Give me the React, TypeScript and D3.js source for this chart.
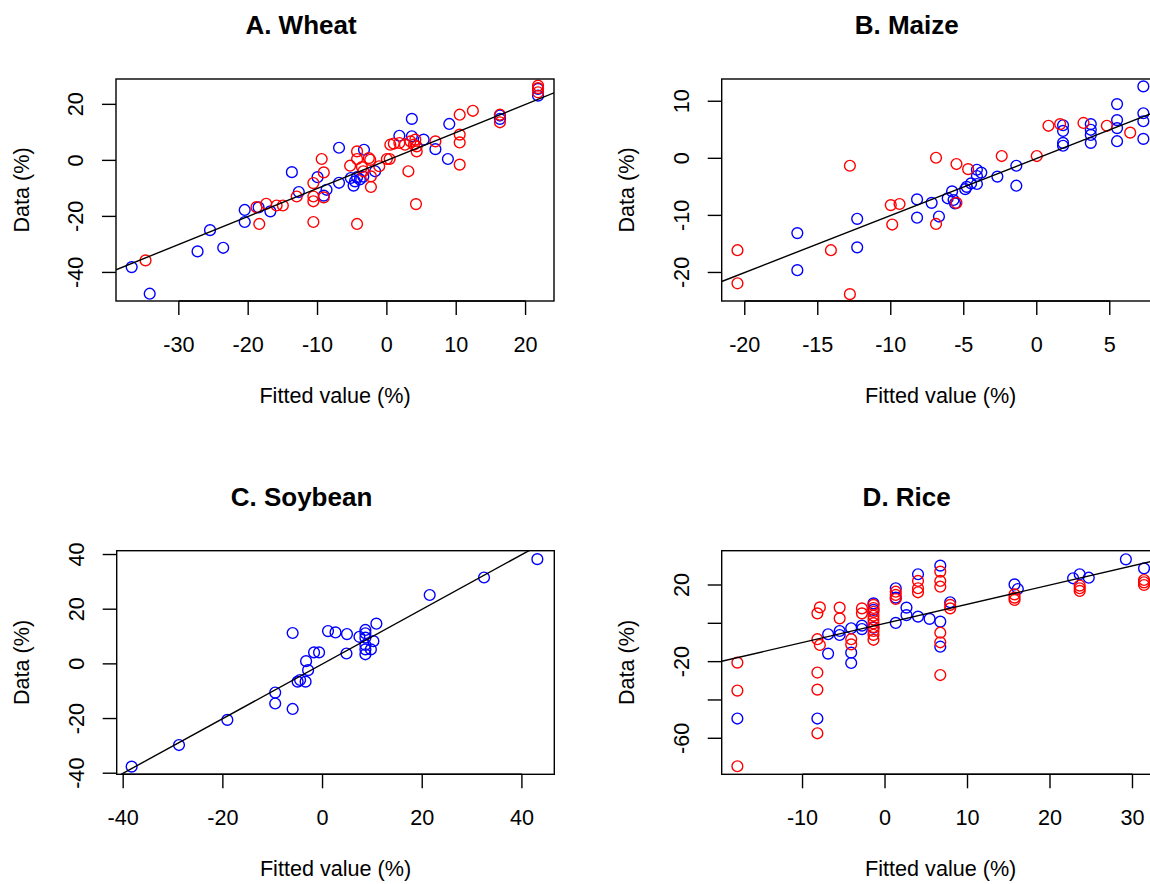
import React from "react";
import * as d3 from "d3";

type Pt = [number, number];

const FONT = "'Liberation Sans', Arial, Helvetica, sans-serif";
const BLUE = "#0000ff";
const RED = "#ff0000";

// [fitted value, observed data] pairs, in percent
const wheatBlue: Pt[] = [
  [-36.8, -38.1], [-34.2, -47.6], [-27.3, -32.5], [-25.5, -24.9], [-23.6, -31.2],
  [-20.5, -17.7], [-20.5, -22.0], [-18.5, -16.8], [-16.8, -18.2], [-13.7, -4.2],
  [-12.7, -11.3], [-10.0, -6.0], [-9.1, -12.6], [-8.7, -10.5], [-6.9, 4.5],
  [-6.9, -8.0], [-5.2, -6.3], [-4.8, -9.0], [-4.6, -7.5], [-4.3, -6.0],
  [-3.9, -6.8], [-3.4, -5.8], [-3.3, 3.8], [-1.7, -3.9], [1.8, 8.8],
  [3.6, 14.8], [3.6, 8.6], [5.3, 7.4], [7.0, 4.0], [8.8, 0.5],
  [9.0, 13.0], [16.3, 16.0], [16.3, 14.8], [21.8, 23.1], [21.8, 25.5],
];
const wheatRed: Pt[] = [
  [-34.8, -35.7], [-18.8, -16.7], [-18.4, -22.7], [-17.4, -15.5], [-15.9, -16.1],
  [-15.0, -16.1], [-13.0, -12.9], [-10.6, -8.1], [-10.6, -12.9], [-10.6, -14.6],
  [-10.6, -22.0], [-9.4, 0.5], [-9.1, -4.3], [-9.1, -13.2], [-5.3, -1.9],
  [-4.3, 3.2], [-4.3, 0.5], [-4.3, -22.7], [-3.6, -2.4], [-3.4, -3.9],
  [-2.6, 0.8], [-2.4, 0.2], [-2.3, -5.7], [-2.3, -9.5], [-1.1, -2.1],
  [0.0, 0.5], [0.4, 0.5], [0.5, 5.6], [1.0, 6.0], [1.8, 6.2],
  [2.6, 5.6], [3.1, -3.9], [3.4, 6.8], [3.9, 5.6], [4.1, 7.4],
  [4.3, 5.0], [4.3, 3.2], [4.2, -15.6], [7.0, 6.8], [10.5, 16.3],
  [10.5, 9.2], [10.5, 6.4], [10.5, -1.5], [12.4, 17.7], [16.3, 16.3],
  [16.3, 13.6], [21.8, 26.7], [21.8, 25.8], [21.8, 24.3],
];

const maizeBlue: Pt[] = [
  [-16.4, -13.1], [-16.4, -19.6], [-12.3, -10.6], [-12.3, -15.6], [-8.2, -7.2],
  [-8.2, -10.4], [-7.2, -7.8], [-6.7, -10.2], [-6.1, -7.0], [-5.8, -5.8],
  [-5.7, -7.3], [-5.6, -7.9], [-4.9, -5.4], [-4.8, -5.0], [-4.5, -4.4],
  [-4.1, -2.0], [-4.1, -3.1], [-4.1, -4.5], [-3.8, -2.5], [-2.7, -3.2],
  [-1.4, -1.3], [-1.4, -4.8], [1.8, 5.8], [1.8, 4.8], [1.8, 2.7],
  [1.8, 2.2], [3.7, 6.0], [3.7, 5.0], [3.7, 4.1], [3.7, 2.7],
  [5.5, 9.5], [5.5, 6.7], [5.5, 5.3], [5.5, 3.0], [7.3, 12.6],
  [7.3, 7.9], [7.3, 6.5], [7.3, 3.4],
];
const maizeRed: Pt[] = [
  [-20.5, -16.1], [-20.5, -21.9], [-14.1, -16.1], [-12.8, -1.3], [-12.8, -23.8],
  [-10.0, -8.2], [-9.4, -8.0], [-9.9, -11.6], [-6.9, 0.1], [-6.9, -11.5],
  [-5.5, -1.0], [-5.5, -7.8], [-4.7, -1.9], [-2.4, 0.4], [0.0, 0.4],
  [0.8, 5.7], [1.6, 6.0], [3.2, 6.2], [4.8, 5.7], [6.4, 4.5],
];

const soybeanBlue: Pt[] = [
  [-38.3, -37.6], [-28.8, -29.7], [-19.1, -20.5], [-9.5, -10.5], [-9.5, -14.5],
  [-6.0, 11.3], [-6.0, -16.5], [-5.0, -6.5], [-4.5, -5.9], [-3.4, -6.5],
  [-3.3, 1.0], [-2.9, -2.3], [-1.7, 4.2], [-0.7, 4.2], [1.1, 12.0],
  [2.6, 11.5], [4.8, 3.8], [4.9, 10.9], [7.4, 9.9], [8.6, 12.4],
  [8.6, 11.2], [8.6, 9.6], [8.6, 6.9], [8.6, 5.3], [8.6, 3.5],
  [9.7, 5.3], [10.2, 8.3], [10.8, 14.7], [21.5, 25.2], [32.4, 31.6],
  [43.1, 38.3],
];
const soybeanRed: Pt[] = [];

const riceBlue: Pt[] = [
  [-17.9, -49.7], [-8.2, -49.7], [-6.9, -5.7], [-6.9, -15.8], [-5.5, -4.0],
  [-5.5, -6.1], [-4.1, -2.6], [-4.1, -15.3], [-4.1, -20.7], [-2.8, -1.2],
  [-2.8, -3.0], [-1.4, 10.4], [-1.4, 7.0], [-1.4, -2.3], [1.3, 18.3],
  [1.3, 13.4], [1.3, 0.2], [2.6, 8.2], [2.6, 4.3], [4.0, 25.6],
  [4.0, 3.5], [5.4, 2.3], [6.7, 30.1], [6.7, 0.9], [6.7, -12.2],
  [7.9, 11.0], [15.7, 20.3], [16.1, 17.9], [22.8, 23.5], [23.6, 25.6],
  [24.7, 23.8], [29.2, 33.4], [31.4, 28.7],
];
const riceRed: Pt[] = [
  [-17.9, -20.5], [-17.9, -35.1], [-17.9, -74.6], [-8.2, 5.2], [-7.9, 8.3],
  [-8.2, -8.3], [-7.9, -11.3], [-8.2, -25.7], [-8.2, -34.6], [-8.2, -57.4],
  [-5.5, 8.2], [-5.5, 2.6], [-4.1, -8.3], [-4.1, -11.0], [-2.8, 7.8],
  [-2.8, 5.2], [-1.4, 9.6], [-1.4, 8.0], [-1.4, 6.0], [-1.4, 4.0],
  [-1.4, 2.0], [-1.4, 0.0], [-1.4, -2.0], [-1.4, -4.0], [-1.4, -6.0],
  [-1.4, -8.6], [1.3, 16.5], [1.3, 14.8], [1.3, 12.7], [4.0, 22.1],
  [4.0, 18.3], [4.0, 16.2], [6.7, 27.0], [6.7, 22.1], [6.7, 19.1],
  [6.7, -4.9], [6.7, -9.9], [6.7, -27.0], [7.9, 9.6], [7.9, 7.8],
  [15.7, 15.1], [15.7, 13.4], [15.7, 12.2], [23.6, 19.7], [23.6, 18.3],
  [23.6, 16.9], [31.4, 22.6], [31.4, 21.4], [31.4, 20.0],
];

// Axis tick values and which ones carry a label
const wheatXTicks = [-30, -20, -10, 0, 10, 20];
const wheatYTicks = [-40, -20, 0, 20];
const maizeXTicks = [-20, -15, -10, -5, 0, 5];
const maizeYTicks = [-20, -10, 0, 10];
const soybeanXTicks = [-40, -20, 0, 20, 40];
const soybeanYTicks = [-40, -20, 0, 20, 40];
const riceXTicks = [-10, 0, 10, 20, 30];
const riceYTicks = [-60, -40, -20, 0, 20];
const riceYLabelled = [-60, -20, 20];

interface PanelSpec {
  id: string;
  title: string;
  blue: Pt[];
  red: Pt[];
  xDomain: [number, number];
  yDomain: [number, number];
  xTicks: number[];
  yTicks: number[];
  yLabelled?: number[];
  left: number;
  top: number;
  width: number;
  height: number;
}

const TICK = 14;
const FS = 21.6;

function Panel({ spec }: { spec: PanelSpec }) {
  const { left, top, width, height } = spec;
  const x = d3.scaleLinear().domain(spec.xDomain).range([left, left + width]);
  const y = d3.scaleLinear().domain(spec.yDomain).range([top + height, top]);
  const bottom = top + height;
  const cx = left + width / 2;
  const cy = top + height / 2;
  const [x0, x1] = spec.xDomain;
  // 1:1 reference line, clipped to the plotting region
  const oneToOne = d3.line<Pt>().x((d) => x(d[0])).y((d) => y(d[1]))([
    [x0, x0],
    [x1, x1],
  ]);
  const labelled = spec.yLabelled ?? spec.yTicks;
  const clipId = `clip-${spec.id}`;

  return (
    <g>
      <defs>
        <clipPath id={clipId}>
          <rect x={left} y={top} width={width} height={height} />
        </clipPath>
      </defs>
      <text
        x={cx - 34}
        y={top - 45}
        textAnchor="middle"
        fontFamily={FONT}
        fontWeight="bold"
        fontSize={26}
      >
        {spec.title}
      </text>
      <g clipPath={`url(#${clipId})`}>
        {spec.blue.map((d, i) => (
          <circle key={`b${i}`} cx={x(d[0])} cy={y(d[1])} r={5.4} fill="none" stroke={BLUE} strokeWidth={1.4} />
        ))}
        {spec.red.map((d, i) => (
          <circle key={`r${i}`} cx={x(d[0])} cy={y(d[1])} r={5.4} fill="none" stroke={RED} strokeWidth={1.4} />
        ))}
        <path d={oneToOne ?? ""} stroke="#000" strokeWidth={1.4} fill="none" />
      </g>
      <rect x={left} y={top} width={width} height={height} fill="none" stroke="#000" strokeWidth={1.4} />
      {/* x axis */}
      <line
        x1={x(spec.xTicks[0])}
        x2={x(spec.xTicks[spec.xTicks.length - 1])}
        y1={bottom}
        y2={bottom}
        stroke="#000"
        strokeWidth={1.4}
      />
      {spec.xTicks.map((t) => (
        <g key={`xt${t}`}>
          <line x1={x(t)} x2={x(t)} y1={bottom} y2={bottom + TICK} stroke="#000" strokeWidth={1.4} />
          <text x={x(t)} y={bottom + 51} textAnchor="middle" fontFamily={FONT} fontSize={FS}>
            {t}
          </text>
        </g>
      ))}
      {/* y axis */}
      {spec.yTicks.map((t) => (
        <g key={`yt${t}`}>
          <line x1={left - TICK} x2={left} y1={y(t)} y2={y(t)} stroke="#000" strokeWidth={1.4} />
          {labelled.includes(t) && (
            <text
              transform={`translate(${left - 33},${y(t)}) rotate(-90)`}
              textAnchor="middle"
              fontFamily={FONT}
              fontSize={FS}
            >
              {t}
            </text>
          )}
        </g>
      ))}
      <text x={cx} y={bottom + 102} textAnchor="middle" fontFamily={FONT} fontSize={FS}>
        Fitted value (%)
      </text>
      <text
        transform={`translate(${left - 87.5},${cy}) rotate(-90)`}
        textAnchor="middle"
        fontFamily={FONT}
        fontSize={FS}
      >
        Data (%)
      </text>
    </g>
  );
}

const panels: PanelSpec[] = [
  {
    id: "wheat",
    title: "A. Wheat",
    blue: wheatBlue,
    red: wheatRed,
    xDomain: [-39.06, 24.1],
    yDomain: [-50.2, 29.05],
    xTicks: wheatXTicks,
    yTicks: wheatYTicks,
    left: 116,
    top: 79,
    width: 438,
    height: 222,
  },
  {
    id: "maize",
    title: "B. Maize",
    blue: maizeBlue,
    red: maizeRed,
    xDomain: [-21.58, 8.42],
    yDomain: [-25.0, 13.9],
    xTicks: maizeXTicks,
    yTicks: maizeYTicks,
    left: 721.7,
    top: 79,
    width: 438,
    height: 222,
  },
  {
    id: "soybean",
    title: "C. Soybean",
    blue: soybeanBlue,
    red: soybeanRed,
    xDomain: [-41.3, 46.5],
    yDomain: [-40.4, 41.4],
    xTicks: soybeanXTicks,
    yTicks: soybeanYTicks,
    left: 116.7,
    top: 550.7,
    width: 437.6,
    height: 223.6,
  },
  {
    id: "rice",
    title: "D. Rice",
    blue: riceBlue,
    red: riceRed,
    xDomain: [-19.8, 33.3],
    yDomain: [-78.8, 37.9],
    xTicks: riceXTicks,
    yTicks: riceYTicks,
    yLabelled: riceYLabelled,
    left: 721.7,
    top: 550.7,
    width: 438,
    height: 223.6,
  },
];

export default function App() {
  return (
    <svg
      width={1150}
      height={884}
      viewBox="0 0 1150 884"
      style={{ position: "absolute", left: 0, top: 0, background: "#fff", display: "block" }}
    >
      <rect x={0} y={0} width={1150} height={884} fill="#fff" />
      {panels.map((p) => (
        <Panel key={p.id} spec={p} />
      ))}
    </svg>
  );
}
